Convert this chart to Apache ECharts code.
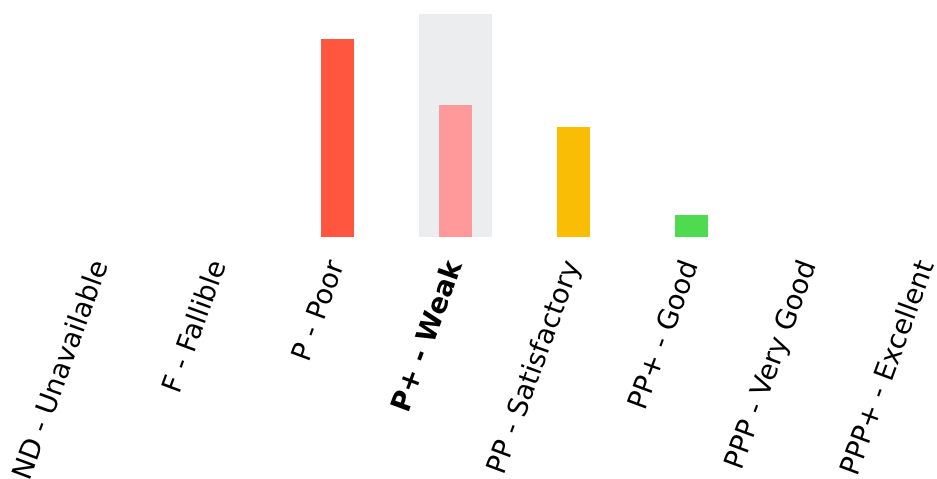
<!DOCTYPE html>
<html>
<head>
<meta charset="utf-8">
<script src="https://cdn.jsdelivr.net/npm/echarts@6/dist/echarts.min.js"></script>
<style>
html,body{margin:0;padding:0;background:#fff;}
#chart{width:937px;height:479px;}
</style>
</head>
<body>
<div id="chart"></div>
<script>
var categories = ['ND - Unavailable','F - Fallible','P - Poor','P+ - Weak','PP - Satisfactory','PP+ - Good','PPP - Very Good','PPP+ - Excellent'];
var values = [0, 0, 9, 6, 5, 1, 0, 0];
var barColors = ['#FF5640','#FF5640','#FF5640','#FF999A','#FABD05','#4FDB50','#4FDB50','#4FDB50'];
var highlightIndex = 3;
var yMax = 10.14;

var shadowData = categories.map(function(c,i){ return i === highlightIndex ? yMax : null; });

var chart = echarts.init(document.getElementById('chart'));
chart.setOption({
  animation: false,
  grid: { left: 101.5, top: 14, right: 9.5, height: 223, containLabel: false, outerBoundsMode: 'none' },
  xAxis: [{
    type: 'category',
    data: categories,
    boundaryGap: false,
    axisLine: { show: false },
    axisTick: { show: false },
    splitLine: { show: false },
    axisLabel: {
      interval: 0,
      rotate: 70,
      margin: 25,
      fontFamily: 'DejaVu Sans',
      fontSize: 27.5,
      color: '#000',
      formatter: function(v){ return v === categories[highlightIndex] ? '{b|' + v + '}' : v; },
      rich: { b: { fontWeight: 'bold', fontFamily: 'DejaVu Sans', fontSize: 27.5, color: '#000' } }
    }
  },{
    type: 'category',
    data: categories,
    boundaryGap: false,
    show: false
  }],
  yAxis: { type: 'value', min: 0, max: yMax, show: false, splitLine: { show: false } },
  series: [{
    type: 'bar',
    xAxisIndex: 1,
    data: shadowData,
    barWidth: 73,
    itemStyle: { color: '#ECEDEF' },
    silent: true,
    z: 1
  },{
    type: 'bar',
    xAxisIndex: 0,
    barWidth: 33,
    data: values.map(function(v,i){ return { value: v, itemStyle: { color: barColors[i] } }; }),
    z: 2
  }]
});
</script>
</body>
</html>
